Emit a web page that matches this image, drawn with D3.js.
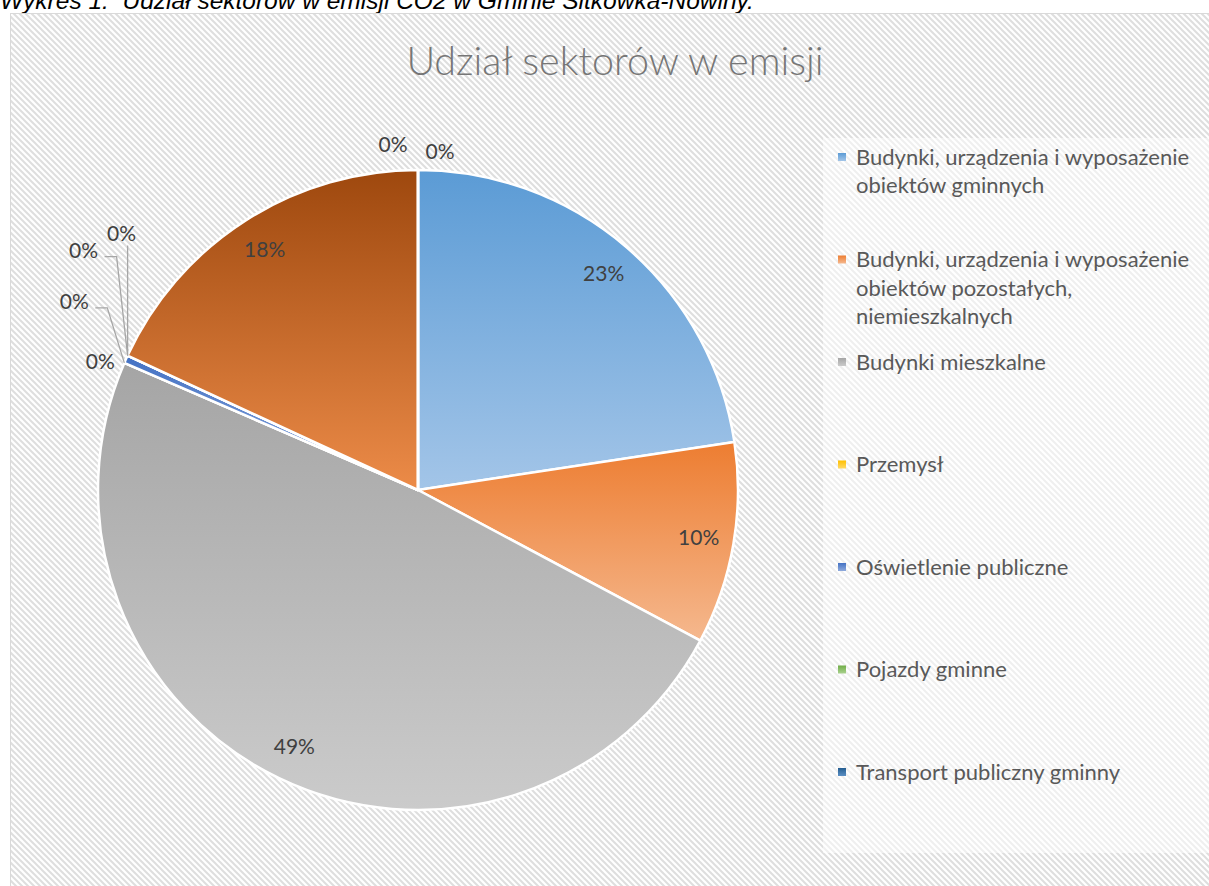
<!DOCTYPE html>
<html>
<head>
<meta charset="utf-8">
<script src="https://cdn.jsdelivr.net/npm/d3@7"></script>
<style>
  body { margin: 0; background: #fff; overflow: hidden; }
</style>
</head>
<body>
<svg id="chart" width="1209" height="886"></svg>
<script>
// dane
var sectors = ["Budynki, urządzenia i wyposażenie obiektów gminnych",
  "Budynki, urządzenia i wyposażenie obiektów pozostałych, niemieszkalnych",
  "Budynki mieszkalne", "Przemysł", "Oświetlenie publiczne", "Pojazdy gminne",
  "Transport publiczny gminny", "Transport prywatny i komercyjny", "Inne 1", "Inne 2"];
var shares = [22.6, 10.2, 48.7, 0, 0.4, 0, 0, 18.1, 0, 0];
// legenda pokazuje tylko pierwsze 7 pozycji (jak w oryginale)
var legendLines = [
  ["Budynki, urządzenia i wyposażenie", "obiektów gminnych"],
  ["Budynki, urządzenia i wyposażenie", "obiektów pozostałych,", "niemieszkalnych"],
  ["Budynki mieszkalne"],
  ["Przemysł"],
  ["Oświetlenie publiczne"],
  ["Pojazdy gminne"],
  ["Transport publiczny gminny"]
];
var title = "Udział sektorów w emisji";
var caption = "Wykres 1.\u00a0 Udział sektorów w emisji CO2 w Gminie Sitkówka-Nowiny.";

// kolory (gradient: góra -> dół)
var topColors = ["#5B9BD5", "#ED7D31", "#A5A5A5", "#FFC000", "#4472C4", "#70AD47", "#255E91", "#9E480E", "#636363", "#997300"];
var bottomColors = ["#A3C5E8", "#F5B88E", "#CBCBCB", "#FFD966", "#8FAADC", "#A9D18E", "#5B8FC4", "#EC8B48", "#A0A0A0", "#D9AC2A"];

// rozmieszczenie etykiet dla bardzo małych wycinków (przesunięcie od krawędzi)
var smallLabelOffsets = {3: [-24, -1], 4: [-50, -61], 5: [-44, -105], 6: [-6, -122], 8: [-25, -25], 9: [22, -18]};
var leaderFor = {4: true, 5: true, 6: true};

var svg = d3.select("#chart");
var font = "Lato, 'Open Sans', sans-serif";
var defs = svg.append("defs");

// tło w ukośne paski
var pat = defs.append("pattern")
    .attr("id", "stripes")
    .attr("patternUnits", "userSpaceOnUse")
    .attr("width", 6).attr("height", 6);
pat.append("rect").attr("width", 6).attr("height", 6).attr("fill", "#fff");
pat.append("path")
    .attr("d", "M-1,-1L7,7M-1,5L1,7M5,-1L7,1")
    .attr("stroke", "#DEDEDE")
    .attr("stroke-width", 2);

shares.forEach(function(v, i) {
  var lg = defs.append("linearGradient")
      .attr("id", "grad" + i)
      .attr("x1", 0).attr("y1", 0).attr("x2", 0).attr("y2", 1);
  lg.append("stop").attr("offset", "0%").attr("stop-color", topColors[i]);
  lg.append("stop").attr("offset", "100%").attr("stop-color", bottomColors[i]);
});

// podpis nad wykresem (obcięty u góry, jak w oryginale)
svg.append("text")
    .attr("x", 0).attr("y", 9)
    .attr("font-family", "'Liberation Sans', Arial, sans-serif")
    .attr("font-style", "italic")
    .attr("font-size", 24.5)
    .attr("fill", "#000")
    .text(caption);

// obszar wykresu
svg.append("rect")
    .attr("x", 10.5).attr("y", 13.5)
    .attr("width", 1220).attr("height", 900)
    .attr("fill", "url(#stripes)")
    .attr("stroke", "#D9D9D9");

svg.append("rect")
    .attr("x", 823).attr("y", 138)
    .attr("width", 400).attr("height", 715)
    .attr("fill", "#fff").attr("fill-opacity", 0.5);

// tytuł
svg.append("text")
    .attr("x", 615).attr("y", 75)
    .attr("text-anchor", "middle")
    .attr("font-family", font)
    .attr("font-weight", 300)
    .attr("font-size", 39.5)
    .attr("fill", "#767676")
    .text(title);

// wykres kołowy
var cx = 418, cy = 490, r = 320;
var pie = d3.pie().sort(null).value(function(d) { return d; });
var arcs = pie(shares);
var arc = d3.arc().innerRadius(0).outerRadius(r);
var labelArc = d3.arc().innerRadius(r * 0.89).outerRadius(r * 0.89);

var g = svg.append("g").attr("transform", "translate(" + cx + "," + cy + ")");

g.selectAll("path.slice")
  .data(arcs)
  .enter()
  .append("path")
    .attr("class", "slice")
    .attr("d", arc)
    .attr("fill", function(d, i) { return "url(#grad" + i + ")"; })
    .attr("stroke", "#fff")
    .attr("stroke-width", 2.5)
    .attr("stroke-linejoin", "round");

// etykiety
function edgePoint(a) { return [Math.sin(a) * r, -Math.cos(a) * r]; }

arcs.forEach(function(d, i) {
  var pos, txt = Math.round(d.data) + "%";
  if (smallLabelOffsets[i]) {
    var p = edgePoint(d.startAngle);
    var off = smallLabelOffsets[i];
    pos = [p[0] + off[0], p[1] + off[1]];
    if (leaderFor[i]) {
      var pts = i == 6
        ? [p, [pos[0] + 6, pos[1] + 12]]
        : [p, [pos[0] + 33, pos[1] + 6], [pos[0] + 21, pos[1] + 6]];
      g.append("path")
          .attr("d", d3.line()(pts))
          .attr("fill", "none")
          .attr("stroke", "#A6A6A6")
          .attr("stroke-width", 1.3);
    }
  } else {
    pos = labelArc.centroid(d);
  }
  g.append("text")
      .attr("x", pos[0]).attr("y", pos[1])
      .attr("text-anchor", "middle")
      .attr("dy", "0.35em")
      .attr("font-family", font)
      .attr("font-size", 21)
      .attr("fill", "#404040")
      .text(txt);
});

// legenda
var legY = d3.scalePoint()
    .domain(d3.range(legendLines.length))
    .range([157, 772]);

var leg = svg.append("g").selectAll("g")
  .data(legendLines)
  .enter()
  .append("g")
    .attr("transform", function(d, i) { return "translate(838," + legY(i) + ")"; });

leg.append("rect")
    .attr("x", 0).attr("y", -4)
    .attr("width", 8).attr("height", 8)
    .attr("fill", function(d, i) { return "url(#grad" + i + ")"; });

leg.append("text")
    .attr("font-family", font)
    .attr("font-size", 22)
    .attr("fill", "#595959")
    .selectAll("tspan")
    .data(function(d) { return d; })
    .enter()
    .append("tspan")
      .attr("x", 18)
      .attr("y", function(d, j) { return j * 28.5; })
      .attr("dy", "0.35em")
      .text(function(d) { return d; });
</script>
</body>
</html>
